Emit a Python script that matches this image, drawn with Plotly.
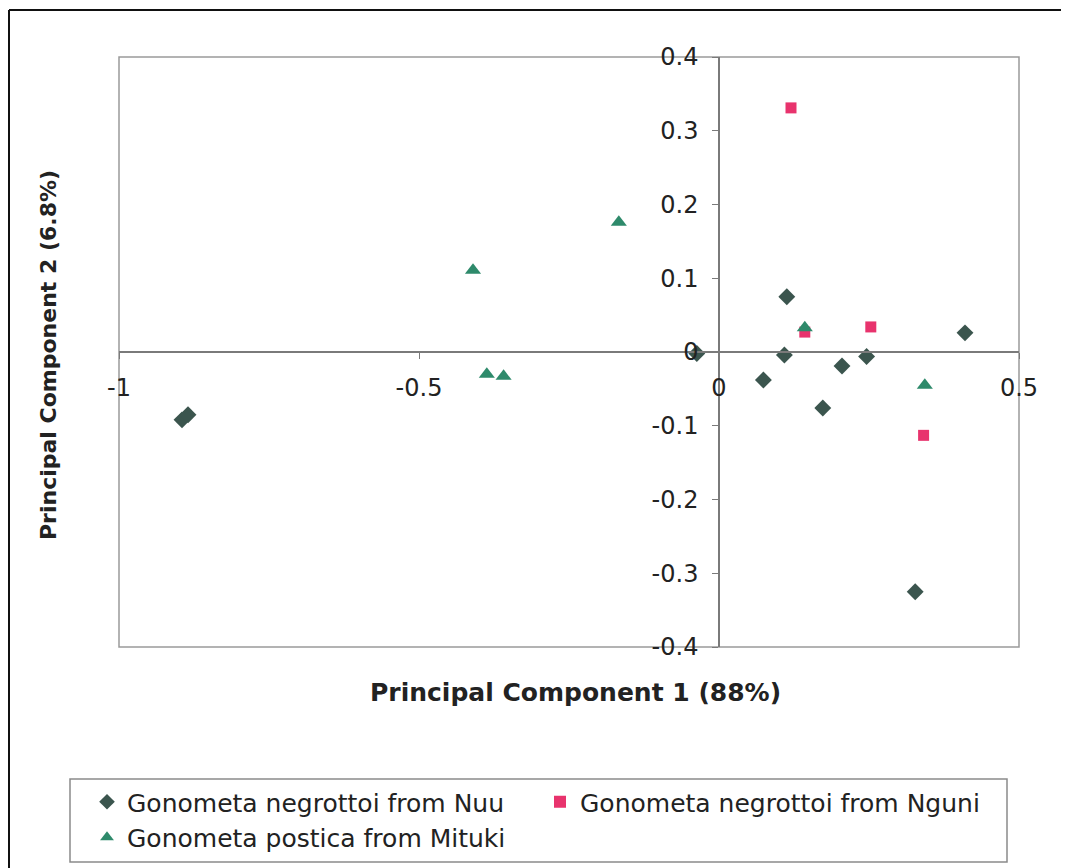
import plotly.graph_objects as go

# ---- data ----
nuu_x = [-0.895, -0.885, -0.037, 0.109, 0.113, 0.074, 0.173, 0.205, 0.246, 0.410, 0.327]
nuu_y = [-0.092, -0.085, -0.002, -0.004, 0.075, -0.038, -0.076, -0.019, -0.006, 0.026, -0.325]

nguni_x = [0.120, 0.143, 0.253, 0.341]
nguni_y = [0.331, 0.027, 0.034, -0.113]

mituki_x = [-0.410, -0.387, -0.359, -0.167, 0.143, 0.343]
mituki_y = [0.111, -0.030, -0.033, 0.176, 0.033, -0.045]

x_ticks = [-1, -0.5, 0, 0.5]
x_tick_labels = ["-1", "-0.5", "0", "0.5"]
y_ticks = [-0.4, -0.3, -0.2, -0.1, 0, 0.1, 0.2, 0.3, 0.4]
y_tick_labels = ["-0.4", "-0.3", "-0.2", "-0.1", "0", "0.1", "0.2", "0.3", "0.4"]

names = ["Gonometa negrottoi from Nuu", "Gonometa negrottoi from Nguni",
         "Gonometa postica from Mituki"]

OFF = 8  # page body margin
W, H = 1069 - OFF, 868 - OFF
# plot area in page pixels: x 119..1019, y 57..647
L, T = 119 - OFF, 57 - OFF
PW, PH = 900, 590
R = W - L - PW
B = H - T - PH


def px_x(p):  # page pixel -> paper x
    return (p - OFF - L) / PW


def px_y(p):  # page pixel -> paper y
    return (T + PH - (p - OFF)) / PH


FONT = "DejaVu Sans"
TXT = "#222222"

fig = go.Figure()
fig.add_trace(go.Scatter(x=nuu_x, y=nuu_y, mode="markers", name=names[0],
                         marker=dict(symbol="diamond", size=13, color="#3b554e")))
fig.add_trace(go.Scatter(x=nguni_x, y=nguni_y, mode="markers", name=names[1],
                         marker=dict(symbol="square", size=11, color="#e8336d")))
fig.add_trace(go.Scatter(x=mituki_x, y=mituki_y, mode="markers", name=names[2],
                         marker=dict(symbol="triangle-up", size=14, color="#2e8a6b")))

axis_col = "#7a7a7a"

fig.update_layout(
    width=W, height=H,
    margin=dict(l=L, r=R, t=T, b=B, autoexpand=False),
    paper_bgcolor="white", plot_bgcolor="white",
    font=dict(family=FONT, size=24, color=TXT),
    xaxis=dict(range=[-1, 0.5], domain=[0, 1], anchor="free", position=0.5,
               showgrid=False, zeroline=False, showline=True, linecolor=axis_col,
               linewidth=1.5, ticks="outside", ticklen=6, tickcolor=axis_col,
               tickvals=x_ticks, ticktext=x_tick_labels, ticklabelstandoff=8,
               tickfont=dict(family=FONT, size=24, color=TXT)),
    yaxis=dict(range=[-0.4, 0.4], domain=[0, 1], anchor="free", position=2 / 3,
               showgrid=False, zeroline=False, showline=True, linecolor=axis_col,
               linewidth=1.5, ticks="outside", ticklen=6, tickcolor=axis_col,
               tickvals=y_ticks, ticktext=y_tick_labels, ticklabelstandoff=9,
               tickfont=dict(family=FONT, size=24, color=TXT)),
    legend=dict(orientation="h", x=px_x(87), y=px_y(779), xanchor="left", yanchor="top",
                entrywidth=408, bgcolor="rgba(0,0,0,0)", borderwidth=0,
                font=dict(family=FONT, size=25, color=TXT),
                itemsizing="constant"),
    showlegend=True,
)

shapes = [
    # plot-area frame
    dict(type="rect", xref="paper", yref="paper", x0=0, x1=1, y0=0, y1=1,
         line=dict(color="#9a9a9a", width=1.5), layer="below"),
    # legend box
    dict(type="rect", xref="paper", yref="paper", x0=px_x(70), x1=px_x(1007),
         y0=px_y(862), y1=px_y(779), line=dict(color="#8a8a8a", width=1.5)),
    # outer figure border (top and left)
    dict(type="line", xref="paper", yref="paper", x0=px_x(9), x1=px_x(1075),
         y0=px_y(10), y1=px_y(10), line=dict(color="#111111", width=2)),
    dict(type="line", xref="paper", yref="paper", x0=px_x(9), x1=px_x(9),
         y0=px_y(10), y1=px_y(875), line=dict(color="#111111", width=2)),
]
fig.update_layout(shapes=shapes)

fig.add_annotation(text="<b>Principal Component 1 (88%)</b>", xref="paper", yref="paper",
                   x=px_x(575), y=px_y(692), xanchor="center", yanchor="middle",
                   showarrow=False, font=dict(family=FONT, size=25, color=TXT))
fig.add_annotation(text="<b>Principal Component 2 (6.8%)</b>", xref="paper", yref="paper",
                   x=px_x(48), y=px_y(355), xanchor="center", yanchor="middle",
                   showarrow=False, textangle=-90,
                   font=dict(family=FONT, size=22, color=TXT))

fig.write_html("out.html")
